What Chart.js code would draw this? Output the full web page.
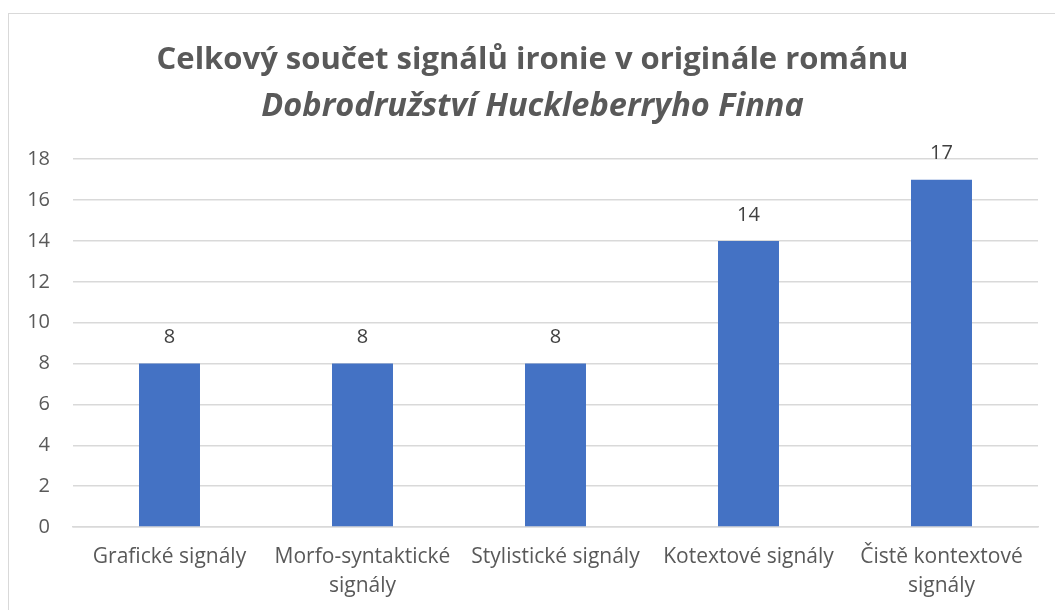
<!DOCTYPE html>
<html lang="en">
  <head>
    <meta charset="UTF-8" />
    <title>Signály ironie</title>
    <script src="https://cdn.jsdelivr.net/npm/chart.js"></script>
    <style>
      body { margin: 0; background: #fff; }
      .frame {
        position: absolute; left: 8px; top: 13px; width: 1100px; height: 650px;
        border: 1px solid #d9d9d9; box-sizing: border-box;
      }
      .wrap { position: absolute; left: 0; top: 0; width: 1055px; height: 610px; }
    </style>
  </head>
  <body>
    <div class="frame"></div>
    <div class="wrap"><canvas id="barChart"></canvas></div>
    <script>
      var categories = [
        ["Grafické signály"],
        ["Morfo-syntaktické", "signály"],
        ["Stylistické signály"],
        ["Kotextové signály"],
        ["Čistě kontextové", "signály"],
      ];
      var values = [8, 8, 8, 14, 17];
      var yTicks = [0, 2, 4, 6, 8, 10, 12, 14, 16, 18];

      var textColor = "#595959";

      // value labels above the bars
      var barLabels = {
        id: "barLabels",
        afterDatasetsDraw: function (chart) {
          var ctx = chart.ctx;
          var meta = chart.getDatasetMeta(0);
          ctx.save();
          ctx.font = "20px 'Open Sans'";
          ctx.fillStyle = "#404040";
          ctx.textAlign = "center";
          ctx.textBaseline = "middle";
          meta.data.forEach(function (bar, i) {
            ctx.fillText(values[i], bar.x, bar.y - 26);
          });
          ctx.restore();
        },
      };

      var ctx = document.getElementById("barChart").getContext("2d");
      new Chart(ctx, {
        type: "bar",
        data: {
          labels: categories,
          datasets: [
            {
              data: values,
              backgroundColor: "#4472C4",
              categoryPercentage: 1,
              barPercentage: 0.316,
            },
          ],
        },
        options: {
          responsive: true,
          maintainAspectRatio: false,
          animation: false,
          layout: { padding: { left: 27, right: 17, top: 14, bottom: 0 } },
          plugins: {
            legend: { display: false },
            tooltip: { enabled: false },
            title: {
              display: true,
              text: "Celkový součet signálů ironie v originále románu",
              color: textColor,
              font: { family: "'Open Sans'", size: 31, weight: "bold" },
              padding: { top: 28, bottom: 8 },
            },
            subtitle: {
              display: true,
              text: "Dobrodružství Huckleberryho Finna",
              color: textColor,
              font: { family: "'Open Sans'", size: 32.5, weight: "bold", style: "italic" },
              padding: { bottom: 33 },
            },
          },
          scales: {
            x: {
              afterFit: function (axis) { axis.height = 83; },
              grid: { display: false },
              border: { color: "#d9d9d9", width: 1.5 },
              ticks: {
                color: textColor,
                font: { family: "'Open Sans'", size: 21, lineHeight: 1.38 },
                padding: 8,
                maxRotation: 0,
                autoSkip: false,
              },
            },
            y: {
              min: 0,
              max: 18,
              afterFit: function (axis) { axis.width = 46; },
              afterBuildTicks: function (axis) {
                axis.ticks = yTicks.map(function (v) { return { value: v }; });
              },
              grid: { color: "#d9d9d9", lineWidth: 1.5, drawTicks: false },
              border: { display: false },
              ticks: {
                color: textColor,
                font: { family: "'Open Sans'", size: 20 },
                padding: 23,
              },
            },
          },
        },
        plugins: [barLabels],
      });
    </script>
  </body>
</html>
